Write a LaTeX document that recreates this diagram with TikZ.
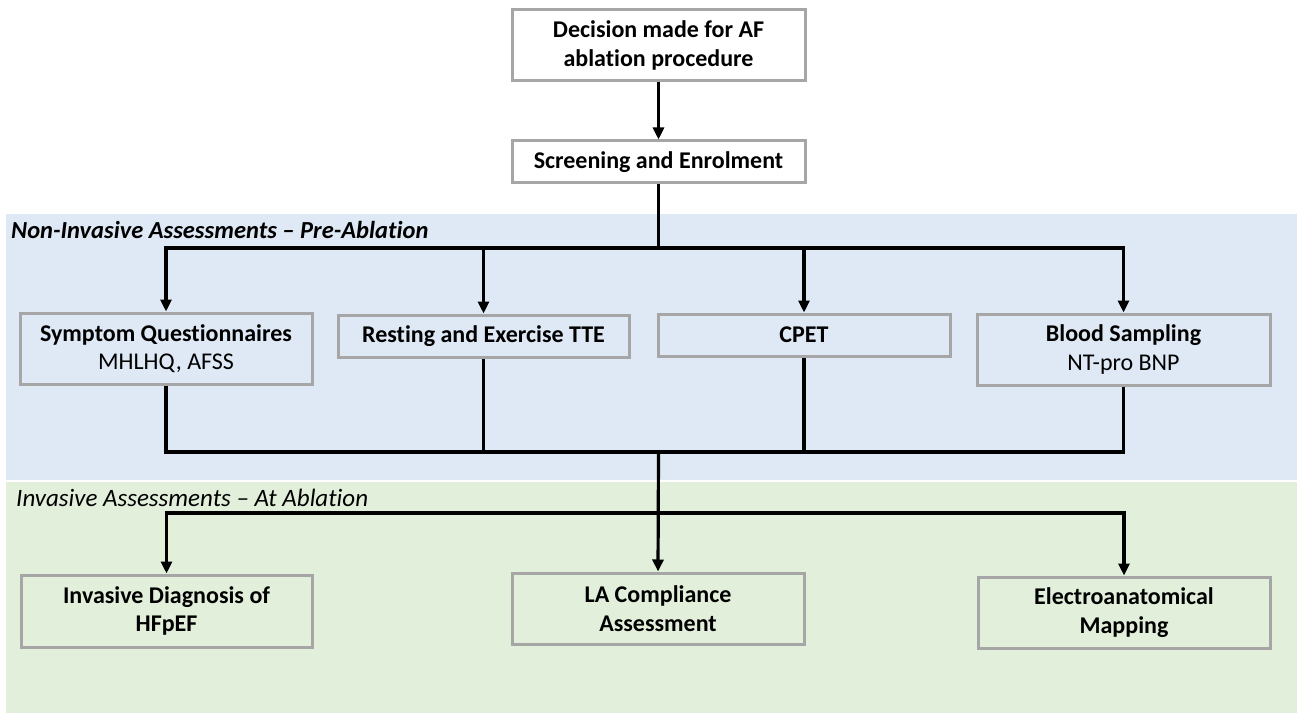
\documentclass[tikz,border=0pt]{standalone}
\usepackage{fontspec}
\setmainfont{Carlito}[Ligatures=NoCommon]
\usetikzlibrary{arrows.meta}
\definecolor{bandblue}{HTML}{DEE9F5}
\definecolor{bandgreen}{HTML}{E2EFDA}
\definecolor{boxgray}{HTML}{A6A6A6}
\begin{document}
\begin{tikzpicture}[x=1pt,y=-1pt,
  stepbox/.style={draw=boxgray,line width=3pt,rectangle,inner sep=0pt,align=center,
    font=\fontsize{24}{28.5}\selectfont},
  conn/.style={line width=3.2pt,draw=black},
  arr/.style={conn,-{Triangle[length=12pt,width=11pt]}},
  bandlabel/.style={anchor=base west,inner sep=0pt}]
\useasboundingbox (0,0) rectangle (1311,714);
% background bands
\fill[bandblue] (6,214) rectangle (1297,480);
\fill[bandgreen] (6,482) rectangle (1297,713);
\node[bandlabel,font=\fontsize{24.5}{28}\selectfont] (lblpre) at (11,238)
  {\textbf{\textit{Non-Invasive Assessments – Pre-Ablation}}};
\node[bandlabel,font=\fontsize{25}{28}\selectfont] (lblat) at (16,506)
  {\textit{Invasive Assessments – At Ablation}};
% top boxes
\node[stepbox,fill=white,minimum width=293pt,minimum height=71pt] (dec) at (658.5,45.5)
  {\textbf{Decision made for AF}\\\textbf{ablation procedure}};
\node[stepbox,fill=white,minimum width=293pt,minimum height=42pt] (scr) at (658.5,162)
  {\textbf{Screening and Enrolment}};
% pre-ablation boxes
\node[stepbox,minimum width=292pt,minimum height=71pt] (sym) at (166,348.5)
  {\textbf{Symptom Questionnaires}\\MHLHQ, AFSS};
\node[stepbox,minimum width=291pt,minimum height=42pt] (tte) at (483.5,336)
  {\textbf{Resting and Exercise TTE}};
\node[stepbox,minimum width=292pt,minimum height=42pt] (cpet) at (804,335)
  {\textbf{CPET}};
\node[stepbox,minimum width=293pt,minimum height=71pt] (blood) at (1123.5,349.5)
  {\textbf{Blood Sampling}\\NT-pro BNP};
% at-ablation boxes
\node[stepbox,minimum width=291pt,minimum height=72pt] (inv) at (166.5,611)
  {\textbf{Invasive Diagnosis of}\\\textbf{HFpEF}};
\node[stepbox,minimum width=292pt,minimum height=71pt] (la) at (658,608.5)
  {\textbf{LA Compliance}\\\textbf{Assessment}};
\node[stepbox,minimum width=292pt,minimum height=71pt] (ele) at (1124,612.5)
  {\textbf{Electroanatomical}\\\textbf{Mapping}};
% bus points
\coordinate (split) at (658.5,248);
\coordinate (join) at (658.5,452);
\coordinate (fan) at (658.5,513);
% connectors
\draw[arr] (dec) -- (scr);
\draw[conn] (scr) -- (split);
\draw[arr] (split) -| (sym.north);
\draw[arr] (split) -| (tte.north);
\draw[arr] (split) -| (cpet.north);
\draw[arr] (split) -| (blood.north);
\draw[conn] (sym.south) |- (join);
\draw[conn] (tte.south) |- (join);
\draw[conn] (cpet.south) |- (join);
\draw[conn] (blood.south) |- (join);
\draw[arr] (join) -- (la.north);
\draw[arr] (fan) -| (inv.north);
\draw[arr] (fan) -| (ele.north);
\end{tikzpicture}
\end{document}
